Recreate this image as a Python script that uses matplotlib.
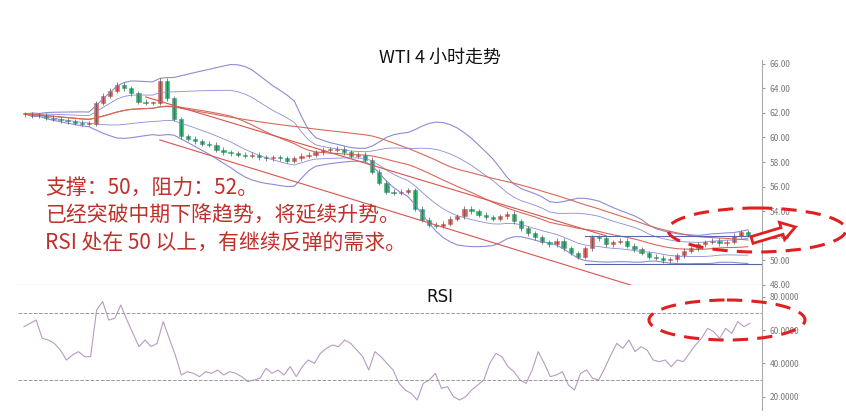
import numpy as np
import pandas as pd
import matplotlib.pyplot as plt
from matplotlib.patches import Ellipse, FancyArrow

plt.rcParams['font.family'] = ['Noto Sans CJK SC', 'DejaVu Sans']

# 4-hour closes
closes = [61.9, 61.8, 61.8, 61.6, 61.5, 61.4, 61.3, 61.2, 61.1, 61.1,
          62.8, 63.4, 63.8, 64.3, 64.0, 63.6, 62.9, 62.8,
          62.8, 64.6, 63.2, 61.5, 60.1, 59.9, 59.7, 59.5, 59.4, 59.0,
          58.8, 58.7, 58.6, 58.5, 58.6, 58.4, 58.3, 58.4, 58.3, 58.1,
          58.3, 58.5, 58.6, 58.8, 59.0, 59.0, 59.1, 58.8, 58.5, 58.6,
          58.2, 57.2, 56.3, 55.6, 55.5, 55.6, 55.7, 54.2, 53.3, 52.9,
          52.8, 53.0, 53.4, 53.6, 54.2, 54.0, 53.7, 53.5, 53.4, 53.6,
          53.8, 53.2, 52.6, 52.2, 51.9, 51.5, 51.3, 51.6, 51.0, 50.6,
          50.3, 51.0, 51.9, 51.8, 51.3, 51.5, 51.6, 51.2, 50.9, 50.6,
          50.3, 50.2, 50.0, 50.1, 50.4, 50.8, 51.0, 51.3, 51.5, 51.6,
          51.4, 51.5, 52.0, 52.3, 52.1]

rsi = [62, 64, 66, 55, 54, 52, 48, 42, 45, 47, 44, 44, 72, 77, 66, 67, 75, 66,
       58, 50, 54, 50, 52, 65, 55, 45, 33, 35, 34, 32, 35, 34, 36, 33, 35, 34,
       32, 29, 30, 31, 37, 34, 36, 33, 38, 32, 38, 42, 40, 46, 49, 51, 50, 54,
       52, 48, 44, 36, 47, 44, 40, 36, 28, 24, 22, 18, 28, 30, 34, 25, 26, 20,
       18, 20, 24, 27, 30, 40, 46, 44, 38, 35, 30, 28, 36, 47, 40, 32, 33, 35,
       27, 24, 34, 36, 31, 30, 37, 45, 52, 49, 54, 47, 50, 48, 42, 41, 42, 38,
       42, 41, 46, 51, 55, 61, 59, 55, 61, 58, 65, 62, 64]

price_ticks = [48, 50, 52, 54, 56, 58, 60, 62, 64, 66]
rsi_ticks = [20, 40, 60, 80]
# trend channel (bar index, price)
upper_line = [(17, 63.3), (82, 52.0)]
lower_line = [(19, 59.8), (86, 47.9)]
range_lines = [(79, 52.0), (79, 49.7)]

texts = ["支撑：50，阻力：52。", "已经突破中期下降趋势，将延续升势。",
         "RSI 处在 50 以上，有继续反弹的需求。"]

W, H = 846, 416
fig = plt.figure(figsize=(W / 100, H / 100), dpi=100)

def fx(px):
    return px / W

def fy(py):
    return 1 - py / H

ax = fig.add_axes([fx(18), fy(285), fx(762 - 18), fy(60) - fy(285)])
axr = fig.add_axes([fx(18), fy(410), fx(762 - 18), fy(285) - fy(410)])

c = np.array(closes)
o = np.r_[c[0], c[:-1]]
x = np.arange(len(c))
s = pd.Series(c)
mid = s.rolling(20, min_periods=1).mean()
sd = s.rolling(20, min_periods=1).std().fillna(0)
ma2 = s.rolling(40, min_periods=1).mean()
band = "#8c8cd6"
ax.plot(x, mid + 2 * sd, color=band, lw=0.8)
ax.plot(x, mid - 2 * sd, color=band, lw=0.8)
ax.plot(x, mid + sd, color=band, lw=0.6)
ax.plot(x, mid - sd, color=band, lw=0.6)
ax.plot(x, mid, color="#d66a5a", lw=0.8)
ax.plot(x, ma2, color="#d66a5a", lw=0.8)

for i in range(len(c)):
    up = c[i] >= o[i]
    col = "#d9605a" if up else "#2fae70"
    lo, hi = min(o[i], c[i]), max(o[i], c[i])
    ax.vlines(x[i], lo - 0.2, hi + 0.2, color="#555555", lw=0.5)
    ax.bar(x[i], max(hi - lo, 0.08), bottom=lo, width=0.6, color=col,
           edgecolor=col, lw=0.4)

for line in (upper_line, lower_line):
    ax.plot([p[0] for p in line], [p[1] for p in line], color="#d9534f", lw=0.8)
for x0, lvl in range_lines:
    ax.plot([x0, 104], [lvl, lvl], color="#5566aa", lw=0.8)

ax.set_xlim(-1, 104)
ax.set_ylim(48, 66.3)
ax.yaxis.tick_right()
ax.set_yticks(price_ticks)
ax.set_yticklabels([f"{v:.2f}" for v in price_ticks], fontsize=6, color="#777777")
ax.set_xticks([])
ax.tick_params(axis="y", length=2, color="#999999")
for k in ("top", "left"):
    ax.spines[k].set_visible(False)
ax.spines["right"].set_color("#aaaaaa")
ax.spines["bottom"].set_color("#888888")

axr.plot(np.arange(len(rsi)), rsi, color="#b79cc0", lw=0.8)
axr.axhline(70, color="#999999", ls="--", lw=0.7)
axr.axhline(30, color="#999999", ls="--", lw=0.7)
axr.set_xlim(-1, len(rsi) + 1)
axr.set_ylim(12, 87)
axr.yaxis.tick_right()
axr.set_yticks(rsi_ticks)
axr.set_yticklabels([f"{v:.4f}" for v in rsi_ticks], fontsize=6, color="#777777")
axr.set_xticks([])
axr.tick_params(axis="y", length=2, color="#999999")
for k in ("top", "left", "bottom"):
    axr.spines[k].set_visible(False)
axr.spines["right"].set_color("#aaaaaa")

# overlay for annotations in pixel space
ov = fig.add_axes([0, 0, 1, 1])
ov.set_xlim(0, W)
ov.set_ylim(H, 0)
ov.axis("off")
ov.text(440, 58, "WTI 4 小时走势", ha="center", va="center", fontsize=13, color="#111111")
ov.text(440, 297, "RSI", ha="center", va="center", fontsize=12, color="#111111",
        family="DejaVu Sans")
for i, t in enumerate(texts):
    ov.text(45, 188 + 27.5 * i, t, ha="left", va="center", fontsize=15, color="#c0302a")
ov.add_patch(Ellipse((757, 230), 178, 44, fill=False, ec="#e02020", ls=(0, (5, 3)), lw=2.2))
ov.add_patch(Ellipse((727, 320), 156, 40, fill=False, ec="#e02020", ls=(0, (5, 3)), lw=2.2))
ov.add_patch(FancyArrow(752, 240, 30, -9, width=7, head_width=18, head_length=14,
                        fc="white", ec="#e02020", lw=2))

fig.savefig("out.png", dpi=100)
